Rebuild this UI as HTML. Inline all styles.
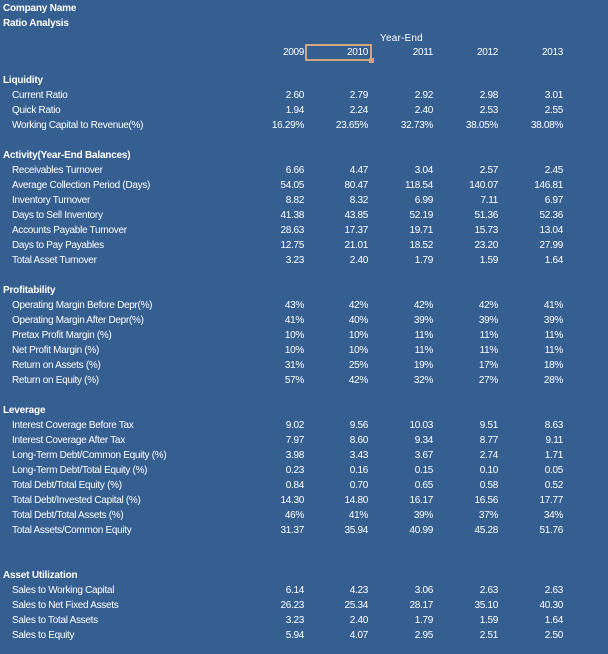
<!DOCTYPE html>
<html><head><meta charset="utf-8"><style>
body{margin:0;width:608px;height:654px;background:#365f91;overflow:hidden;font-family:"Liberation Sans",sans-serif;color:#fff;font-size:10px;position:relative}
.r{position:absolute;left:0;width:608px;height:15px;line-height:15px;white-space:nowrap;letter-spacing:-0.3px;margin-top:1px}
.r span{position:absolute;top:0}
.h{left:3px;font-weight:bold;letter-spacing:-0.2px}
.l{left:12px}
.c1,.c2,.c3,.c4,.c5{width:60px;text-align:right}
.c1{left:244px}.c2{left:308px}.c3{left:373px}.c4{left:438px}.c5{left:503px}
.box{position:absolute;left:305px;top:44px;width:63px;height:13px;border:2px solid #d3a57a}
.box::after{content:"";position:absolute;right:-4px;bottom:-4px;width:5px;height:5px;background:#d3a57a}
</style></head><body>
<div class="box"></div>
<div class="r" style="top:0"><span class="h">Company Name</span></div>
<div class="r" style="top:15px"><span class="h">Ratio Analysis</span></div>
<div class="r" style="top:30px"><span style="left:380px;letter-spacing:0.2px">Year-End</span></div>
<div class="r" style="top:44px"><span class="c1">2009</span><span class="c2">2010</span><span class="c3">2011</span><span class="c4">2012</span><span class="c5">2013</span></div>

<div class="r" style="top:72px"><span class="h">Liquidity</span></div>
<div class="r" style="top:87px"><span class="l">Current Ratio</span><span class="c1">2.60</span><span class="c2">2.79</span><span class="c3">2.92</span><span class="c4">2.98</span><span class="c5">3.01</span></div>
<div class="r" style="top:102px"><span class="l">Quick Ratio</span><span class="c1">1.94</span><span class="c2">2.24</span><span class="c3">2.40</span><span class="c4">2.53</span><span class="c5">2.55</span></div>
<div class="r" style="top:117px"><span class="l">Working Capital to Revenue(%)</span><span class="c1">16.29%</span><span class="c2">23.65%</span><span class="c3">32.73%</span><span class="c4">38.05%</span><span class="c5">38.08%</span></div>

<div class="r" style="top:147px"><span class="h">Activity(Year-End Balances)</span></div>
<div class="r" style="top:162px"><span class="l">Receivables Turnover</span><span class="c1">6.66</span><span class="c2">4.47</span><span class="c3">3.04</span><span class="c4">2.57</span><span class="c5">2.45</span></div>
<div class="r" style="top:177px"><span class="l">Average Collection Period (Days)</span><span class="c1">54.05</span><span class="c2">80.47</span><span class="c3">118.54</span><span class="c4">140.07</span><span class="c5">146.81</span></div>
<div class="r" style="top:192px"><span class="l">Inventory Turnover</span><span class="c1">8.82</span><span class="c2">8.32</span><span class="c3">6.99</span><span class="c4">7.11</span><span class="c5">6.97</span></div>
<div class="r" style="top:207px"><span class="l">Days to Sell Inventory</span><span class="c1">41.38</span><span class="c2">43.85</span><span class="c3">52.19</span><span class="c4">51.36</span><span class="c5">52.36</span></div>
<div class="r" style="top:222px"><span class="l">Accounts Payable Turnover</span><span class="c1">28.63</span><span class="c2">17.37</span><span class="c3">19.71</span><span class="c4">15.73</span><span class="c5">13.04</span></div>
<div class="r" style="top:237px"><span class="l">Days to Pay Payables</span><span class="c1">12.75</span><span class="c2">21.01</span><span class="c3">18.52</span><span class="c4">23.20</span><span class="c5">27.99</span></div>
<div class="r" style="top:252px"><span class="l">Total Asset Turnover</span><span class="c1">3.23</span><span class="c2">2.40</span><span class="c3">1.79</span><span class="c4">1.59</span><span class="c5">1.64</span></div>

<div class="r" style="top:282px"><span class="h">Profitability</span></div>
<div class="r" style="top:297px"><span class="l">Operating Margin Before Depr(%)</span><span class="c1">43%</span><span class="c2">42%</span><span class="c3">42%</span><span class="c4">42%</span><span class="c5">41%</span></div>
<div class="r" style="top:312px"><span class="l">Operating Margin After Depr(%)</span><span class="c1">41%</span><span class="c2">40%</span><span class="c3">39%</span><span class="c4">39%</span><span class="c5">39%</span></div>
<div class="r" style="top:327px"><span class="l">Pretax Profit Margin (%)</span><span class="c1">10%</span><span class="c2">10%</span><span class="c3">11%</span><span class="c4">11%</span><span class="c5">11%</span></div>
<div class="r" style="top:342px"><span class="l">Net Profit Margin (%)</span><span class="c1">10%</span><span class="c2">10%</span><span class="c3">11%</span><span class="c4">11%</span><span class="c5">11%</span></div>
<div class="r" style="top:357px"><span class="l">Return on Assets (%)</span><span class="c1">31%</span><span class="c2">25%</span><span class="c3">19%</span><span class="c4">17%</span><span class="c5">18%</span></div>
<div class="r" style="top:372px"><span class="l">Return on Equity (%)</span><span class="c1">57%</span><span class="c2">42%</span><span class="c3">32%</span><span class="c4">27%</span><span class="c5">28%</span></div>

<div class="r" style="top:402px"><span class="h">Leverage</span></div>
<div class="r" style="top:417px"><span class="l">Interest Coverage Before Tax</span><span class="c1">9.02</span><span class="c2">9.56</span><span class="c3">10.03</span><span class="c4">9.51</span><span class="c5">8.63</span></div>
<div class="r" style="top:432px"><span class="l">Interest Coverage After Tax</span><span class="c1">7.97</span><span class="c2">8.60</span><span class="c3">9.34</span><span class="c4">8.77</span><span class="c5">9.11</span></div>
<div class="r" style="top:447px"><span class="l">Long-Term Debt/Common Equity (%)</span><span class="c1">3.98</span><span class="c2">3.43</span><span class="c3">3.67</span><span class="c4">2.74</span><span class="c5">1.71</span></div>
<div class="r" style="top:462px"><span class="l">Long-Term Debt/Total Equity (%)</span><span class="c1">0.23</span><span class="c2">0.16</span><span class="c3">0.15</span><span class="c4">0.10</span><span class="c5">0.05</span></div>
<div class="r" style="top:477px"><span class="l">Total Debt/Total Equity (%)</span><span class="c1">0.84</span><span class="c2">0.70</span><span class="c3">0.65</span><span class="c4">0.58</span><span class="c5">0.52</span></div>
<div class="r" style="top:492px"><span class="l">Total Debt/Invested Capital (%)</span><span class="c1">14.30</span><span class="c2">14.80</span><span class="c3">16.17</span><span class="c4">16.56</span><span class="c5">17.77</span></div>
<div class="r" style="top:507px"><span class="l">Total Debt/Total Assets (%)</span><span class="c1">46%</span><span class="c2">41%</span><span class="c3">39%</span><span class="c4">37%</span><span class="c5">34%</span></div>
<div class="r" style="top:522px"><span class="l">Total Assets/Common Equity</span><span class="c1">31.37</span><span class="c2">35.94</span><span class="c3">40.99</span><span class="c4">45.28</span><span class="c5">51.76</span></div>

<div class="r" style="top:567px"><span class="h">Asset Utilization</span></div>
<div class="r" style="top:582px"><span class="l">Sales to Working Capital</span><span class="c1">6.14</span><span class="c2">4.23</span><span class="c3">3.06</span><span class="c4">2.63</span><span class="c5">2.63</span></div>
<div class="r" style="top:597px"><span class="l">Sales to Net Fixed Assets</span><span class="c1">26.23</span><span class="c2">25.34</span><span class="c3">28.17</span><span class="c4">35.10</span><span class="c5">40.30</span></div>
<div class="r" style="top:612px"><span class="l">Sales to Total Assets</span><span class="c1">3.23</span><span class="c2">2.40</span><span class="c3">1.79</span><span class="c4">1.59</span><span class="c5">1.64</span></div>
<div class="r" style="top:627px"><span class="l">Sales to Equity</span><span class="c1">5.94</span><span class="c2">4.07</span><span class="c3">2.95</span><span class="c4">2.51</span><span class="c5">2.50</span></div>
</body></html>
